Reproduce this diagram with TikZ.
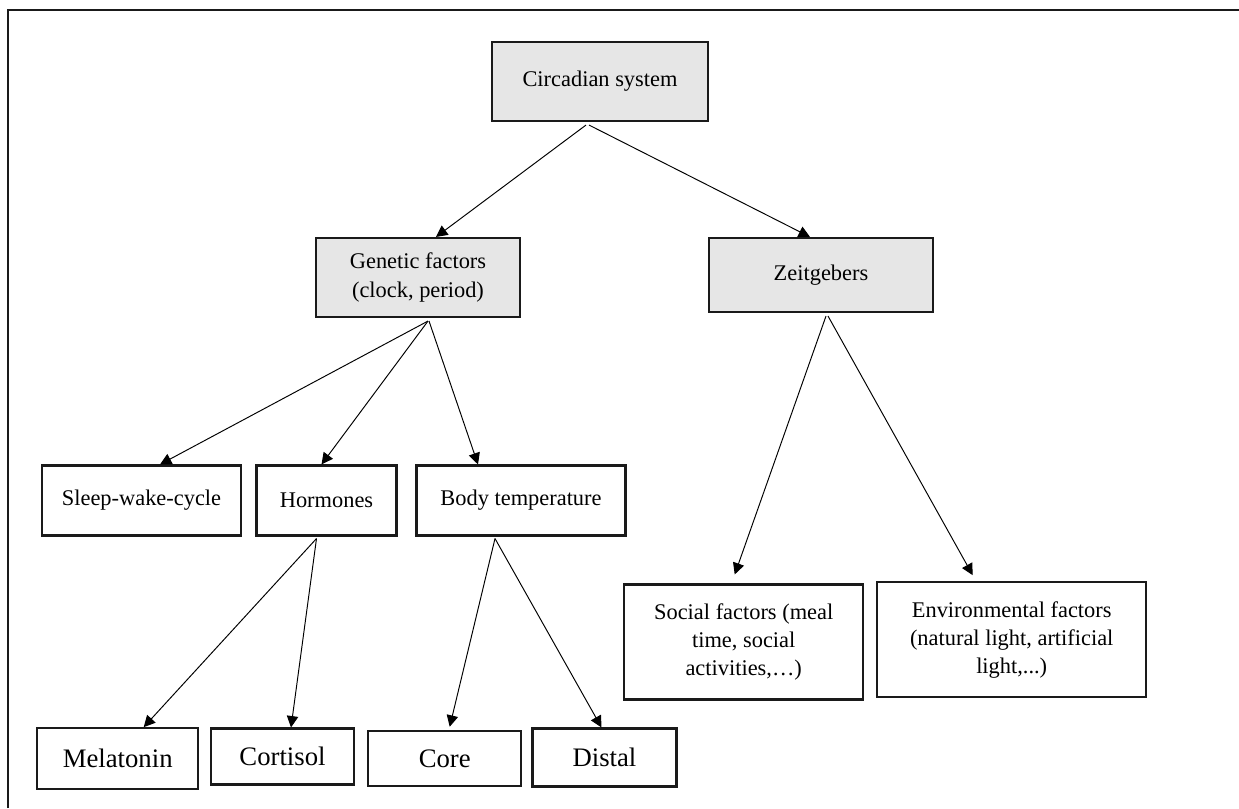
\documentclass[tikz,border=0pt]{standalone}
\usepackage{fontspec}
\setmainfont{Liberation Serif}
\usetikzlibrary{arrows.meta,calc}
\definecolor{boxgray}{HTML}{E6E6E6}
\definecolor{frameline}{HTML}{1A1A1A}

\begin{document}
\begin{tikzpicture}[x=0.02cm,y=-0.02cm,
    box/.style={draw=frameline,line width=1.2pt,align=center,inner sep=0pt,
      font=\fontsize{12.75}{16}\selectfont},
    headbox/.style={box,fill=boxgray},
    leafbox/.style={box,font=\fontsize{15.2}{18}\selectfont},
    link/.style={line width=0.55pt,-{Triangle[length=6.5pt,width=6.5pt]}}]
  \useasboundingbox (0,0) rectangle (1239,808);
  \coordinate (fbl) at (8,808);
  \coordinate (ftl) at (8,10);
  \coordinate (ftr) at (1239,10);
  \draw[frameline,line width=1.4pt] (fbl) -- (ftl) -- (ftr);

  \node[headbox,minimum width=4.32cm,minimum height=1.58cm] (circ) at (600,81.5) {Circadian system};
  \node[headbox,minimum width=4.08cm,minimum height=1.58cm] (gen) at (418,277.5) {Genetic factors\\(clock, period)};
  \node[headbox,minimum width=4.48cm,minimum height=1.48cm] (zeit) at (821,275) {Zeitgebers};

  \node[box,minimum width=3.98cm,minimum height=1.4cm] (sleep) at (141.5,500.5) {Sleep-wake-cycle};
  \node[box,minimum width=2.8cm,minimum height=1.4cm] (horm) at (326.5,500.5) {Hormones};
  \node[box,minimum width=4.18cm,minimum height=1.4cm] (body) at (521,500.5) {Body temperature};

  \node[leafbox,minimum width=3.22cm,minimum height=1.22cm] (mela) at (117.7,758.7) {Melatonin};
  \node[leafbox,minimum width=2.86cm,minimum height=1.12cm] (cort) at (282.5,756.5) {Cortisol};
  \node[leafbox,minimum width=3.06cm,minimum height=1.1cm] (core) at (444.7,758.3) {Core};
  \node[leafbox,minimum width=2.88cm,minimum height=1.16cm] (dist) at (604.5,757.5) {Distal};

  \node[box,minimum width=4.78cm,minimum height=2.3cm] (soc) at (743.7,642) {Social factors (meal\\time, social\\activities,…)};
  \node[box,minimum width=5.38cm,minimum height=2.3cm] (env) at (1011.7,639.7) {Environmental factors\\(natural light, artificial\\light,...)};

  \draw[link] ($(circ.south)+(-14,3)$) -- ($(gen.north)+(18,0)$);
  \draw[link] ($(circ.south)+(-11,3)$) -- ($(zeit.north)+(-11,0)$);
  \draw[link] ($(gen.south)+(10,3)$) -- ($(sleep.north)+(18.5,0)$);
  \draw[link] ($(gen.south)+(10,3)$) -- ($(horm.north)+(-5,0)$);
  \draw[link] ($(gen.south)+(11,3)$) -- ($(body.north)+(-43,0)$);
  \draw[link] ($(zeit.south)+(5,3)$) -- ($(soc.north)+(-9,-9)$);
  \draw[link] ($(zeit.south)+(7,3)$) -- ($(env.north)+(-39,-6)$);
  \draw[link] ($(horm.south)+(-10,2)$) -- ($(mela.north)+(26,0)$);
  \draw[link] ($(horm.south)+(-10,2)$) -- ($(cort.north)+(8.5,0)$);
  \draw[link] ($(body.south)+(-26,2)$) -- ($(core.north)+(5,-3)$);
  \draw[link] ($(body.south)+(-26,2)$) -- ($(dist.north)+(-3,0)$);
\end{tikzpicture}
\end{document}
